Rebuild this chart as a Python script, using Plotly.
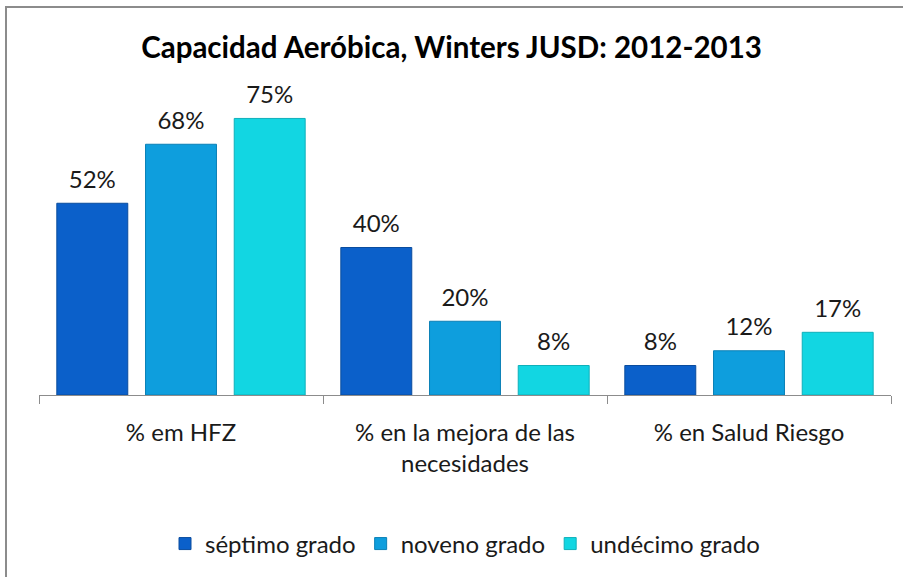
import plotly.graph_objects as go

categories = ["% em HFZ", "% en la mejora de las necesidades", "% en Salud Riesgo"]
tick_labels = ["% em HFZ", "% en la mejora de las<br>necesidades", "% en Salud Riesgo"]
series_names = ["séptimo grado", "noveno grado", "undécimo grado"]
septimo = [52, 40, 8]
noveno = [68, 20, 12]
undecimo = [75, 8, 17]
colors = ["#0b60ca", "#0e9edd", "#12d6e2"]
line_colors = ["#0a4c9e", "#0b80b6", "#0fb0ba"]

FONT = "Lato, Calibri, Carlito, sans-serif"
GAP = 0.063

fig = go.Figure()
for i, (name, vals, c, lc) in enumerate(zip(series_names, [septimo, noveno, undecimo], colors, line_colors)):
    fig.add_trace(go.Bar(
        x=categories, y=vals, name=name,
        marker=dict(color=c, line=dict(color=lc, width=1)),
        offsetgroup=str(i),
    ))
for i, (name, vals) in enumerate(zip(series_names, [septimo, noveno, undecimo])):
    fig.add_trace(go.Scatter(
        x=categories, y=vals, name=name, mode="markers+text",
        marker=dict(size=14, color="rgba(0,0,0,0)"),
        text=[f"{v}%" for v in vals],
        textposition="top center",
        textfont=dict(size=24, color="#1a1a1a", family=FONT),
        offsetgroup=str(i), showlegend=False, hoverinfo="skip", cliponaxis=False,
    ))

fig.update_layout(
    width=903, height=577,
    margin=dict(l=39, r=12, t=100, b=182, autoexpand=False),
    paper_bgcolor="white", plot_bgcolor="white",
    barmode="group", bargap=GAP, bargroupgap=0.2,
    scattermode="group", scattergap=GAP,
    font=dict(family=FONT, size=24, color="#1a1a1a"),
    title=dict(text="<b>Capacidad Aeróbica, Winters JUSD: 2012-2013</b>",
               x=0.5, xanchor="center", y=1 - 48 / 577, yanchor="middle",
               font=dict(size=29.5, family=FONT, color="#000000")),
    showlegend=True,
    legend=dict(orientation="h", x=0.5, xanchor="center", y=-0.505, yanchor="middle",
                font=dict(size=24, family=FONT, color="#1a1a1a"),
                itemwidth=30, traceorder="normal"),
    xaxis=dict(tickvals=categories, ticktext=tick_labels, showline=True, linecolor="#8c8c8c",
               linewidth=1, ticks="outside", tickson="boundaries", ticklen=8,
               tickcolor="#8c8c8c", showgrid=False, tickfont=dict(size=24), automargin=False,
               ticklabelstandoff=16),
    yaxis=dict(range=[0, 80], visible=False, showgrid=False),
    shapes=[dict(type="rect", xref="paper", yref="paper",
                 x0=-33 / 852, x1=1.3, y0=-0.9, y1=1 + 93 / 295,
                 line=dict(color="#8c8c8c", width=2), fillcolor="rgba(0,0,0,0)", layer="below")],
)

fig.write_html("out.html", config={"displayModeBar": False},
               post_script="document.body.style.margin='0';")
